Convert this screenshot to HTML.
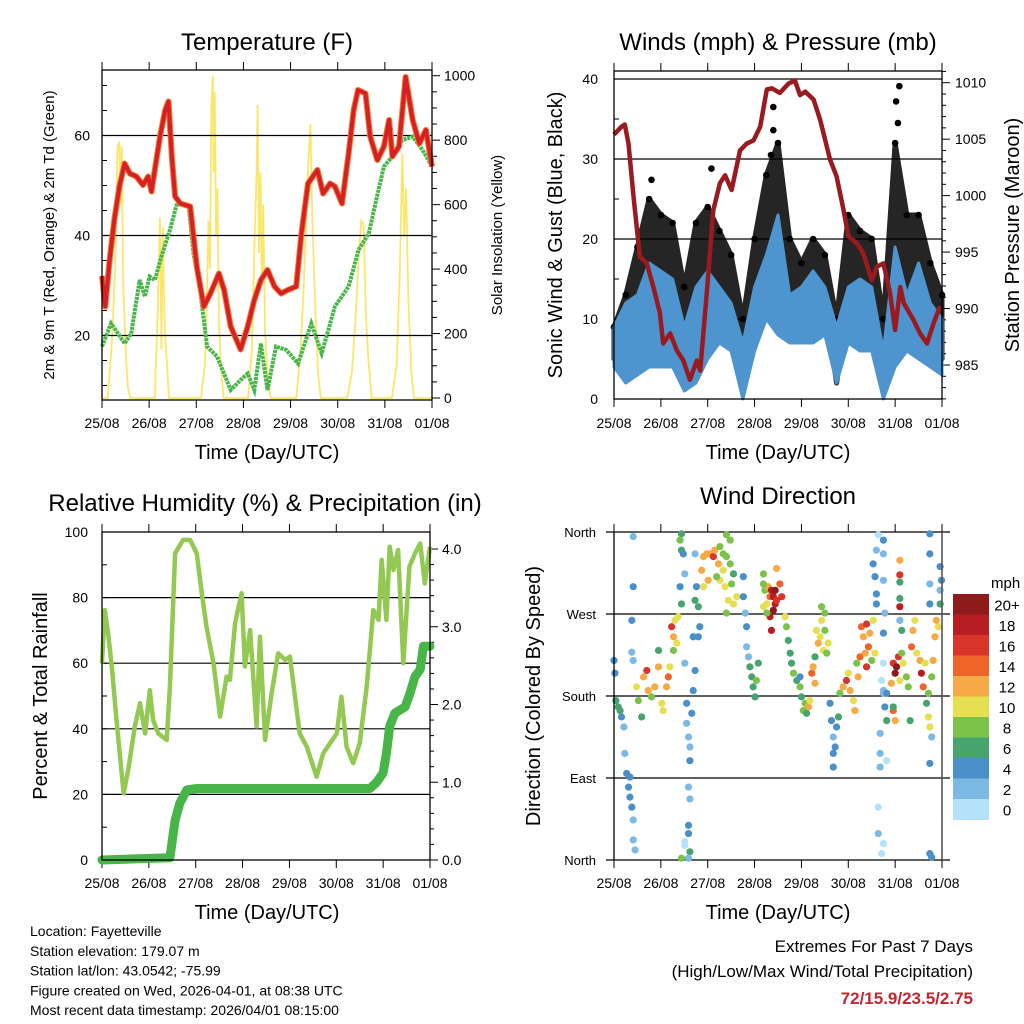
<!DOCTYPE html>
<html><head><meta charset="utf-8">
<style>
html,body{margin:0;padding:0;background:#fff;}
svg{display:block;font-family:"Liberation Sans",Arial,sans-serif;}
</style></head>
<body>
<svg id="chart" width="1024" height="1024" viewBox="0 0 1024 1024">
<g id="layer"></g>
</svg>
<script>
// ---------------- DATA ----------------
const dayLabels = ["25/08","26/08","27/08","28/08","29/08","30/08","31/08","01/08"];
// Temperature 2m (red) / 9m (orange)
const tempDays = [0,0.07,0.16,0.26,0.37,0.48,0.59,0.73,0.87,0.98,1.05,1.12,1.23,1.34,1.41,1.48,1.55,1.66,1.87,2.01,2.16,2.30,2.48,2.59,2.73,2.94,3.09,3.23,3.37,3.51,3.66,3.80,3.94,4.12,4.23,4.37,4.57,4.69,4.84,4.94,5.09,5.23,5.34,5.43,5.59,5.69,5.84,5.98,6.09,6.16,6.30,6.44,6.59,6.73,6.87,7.0];
const tempVals = [31.9,25.8,34.9,43.1,49.8,54.4,52.4,51.8,50.1,51.8,48.8,53.1,59.8,65.1,66.8,55.8,47.8,46.4,45.8,33.8,25.8,28.4,32.4,29.1,21.8,17.2,21.8,27.1,31.1,33.1,29.8,28.4,29.1,29.8,40.4,50.4,53.1,48.4,50.4,49.8,46.4,56.4,65.1,69.1,68.4,59.8,55.1,57.8,63.1,55.8,57.8,71.7,63.1,58.4,61.1,53.8];
// Dewpoint (green)
const dewDays = [0,0.19,0.34,0.48,0.62,0.80,0.91,1.01,1.12,1.26,1.44,1.59,1.84,1.94,2.09,2.23,2.44,2.73,2.94,3.09,3.23,3.37,3.51,3.69,3.91,4.16,4.44,4.66,4.94,5.23,5.44,5.66,5.80,5.98,6.16,6.37,6.59,6.80,7.0];
const dewVals = [17.8,22.4,20.4,18.4,20.4,31.1,27.8,31.8,31.1,35.8,41.1,46.4,45.8,36.4,28.4,17.8,15.8,9.1,11.1,12.4,9.1,18.4,9.1,17.8,17.1,14.4,22.4,16.4,25.8,29.8,37.1,40.4,46.4,53.8,55.8,59.1,59.8,57.1,53.8];
// Solar insolation (yellow)
const solarDays = [0,0.12,0.2,0.28,0.33,0.37,0.40,0.42,0.45,0.5,0.55,0.6,1.12,1.18,1.23,1.26,1.29,1.33,1.38,1.42,2.1,2.18,2.22,2.26,2.29,2.32,2.35,2.37,2.39,2.42,2.45,2.48,2.52,2.58,3.1,3.18,3.24,3.28,3.3,3.33,3.36,3.39,3.42,3.46,3.52,3.58,4.12,4.2,4.28,4.35,4.42,4.46,4.52,4.58,4.64,5.2,5.3,5.38,5.45,5.5,5.55,5.6,5.65,5.72,6.15,6.25,6.32,6.37,6.41,6.45,6.5,6.56,6.62,7.0];
const solarVals = [0,0,150,400,780,795,600,780,350,150,30,0,0,250,560,150,530,220,100,0,0,100,300,550,400,900,1000,700,950,500,650,250,100,0,0,150,500,700,910,450,700,350,600,200,50,0,0,120,350,650,850,550,300,80,0,0,80,250,450,550,540,250,120,0,0,100,400,760,500,650,300,80,0,0];
// Winds: 6-hourly envelopes (mph)
const windDays = [0,0.25,0.5,0.75,1,1.25,1.5,1.75,2,2.25,2.5,2.75,3,3.25,3.5,3.75,4,4.25,4.5,4.75,5,5.25,5.5,5.75,6,6.25,6.5,6.75,7];
const windLow  = [4,2,3,4,4,4,1,2,5,7,6,0,6,10,8,7,7,7,8,2,7,6,6,0,4,6,5,4,3];
const windHigh = [9,12,13,17,16,15,9,14,16,14,12,7,14,18,23,13,14,16,14,9,14,15,14,6,19,13,17,12,10];
const gustLow  = [5,6,8,10,10,9,5,8,12,10,8,2,9,16,12,10,10,12,12,2,12,10,10,2,12,10,10,8,5];
const gustHigh = [9,13,19,25,23,22,14,22,24,21,18,10,20,28,32,20,17,20,18,10,23,21,20,10,32,23,23,17,13];
const gustPeakDays = [6.09,6.02,3.40,3.40,2.08,0.8,6.06,3.35];
const gustPeakVals = [39.1,37.2,36.5,33.6,28.8,27.4,34.5,30.5];
// Station pressure (mb)
const presDays = [0,0.16,0.23,0.31,0.41,0.55,0.70,0.84,0.98,1.05,1.20,1.34,1.48,1.62,1.77,1.84,1.98,2.12,2.26,2.37,2.51,2.69,2.83,2.98,3.12,3.26,3.37,3.54,3.72,3.86,3.97,4.08,4.26,4.40,4.61,4.75,4.90,5.00,5.18,5.32,5.50,5.61,5.75,5.89,6.00,6.11,6.18,6.39,6.53,6.68,6.82,6.96];
const presVals = [1005.4,1006.1,1006.3,1004.6,1000.2,994.6,994.0,991.9,989.6,986.9,987.8,986.3,985.4,983.7,985.4,984.5,991.4,998.7,1001.1,1001.8,1000.5,1004.0,1004.6,1004.9,1006.1,1009.4,1009.5,1009.1,1009.9,1010.2,1008.9,1009.2,1008.5,1006.7,1003.2,1001.7,998.7,996.4,995.8,994.9,992.5,993.7,994.0,991.4,988.1,991.9,990.5,989.0,987.8,986.9,988.7,990.2];
// Relative humidity (%)
const rhDays = [0,0.06,0.13,0.21,0.31,0.40,0.46,0.56,0.70,0.81,0.92,1.02,1.09,1.20,1.38,1.45,1.56,1.73,1.88,2.02,2.13,2.23,2.38,2.52,2.66,2.73,2.84,2.98,3.05,3.16,3.30,3.37,3.48,3.62,3.76,3.91,4.01,4.22,4.37,4.58,4.72,5.01,5.11,5.22,5.36,5.50,5.65,5.79,5.90,5.97,6.07,6.14,6.22,6.32,6.43,6.56,6.68,6.79,6.89,7.0];
const rhVals = [60.0,76.2,69.1,59.0,42.7,29.5,20.3,27.4,40.7,47.8,38.6,51.8,42.7,38.6,36.6,52.8,93.5,97.6,97.6,93.5,81.3,71.1,60.0,43.7,55.9,54.9,72.2,81.3,59.0,70.1,40.7,68.1,36.6,50.8,63.0,61.0,62.0,38.6,34.5,25.4,32.5,38.6,49.8,34.5,29.5,35.6,52.8,76.2,73.2,91.5,73.2,95.5,88.4,94.5,60.0,89.4,93.5,96.5,84.3,95.5];
// Total rainfall (in)
const rainDays = [0,1.45,1.56,1.66,1.81,2.02,5.72,5.86,6.0,6.07,6.14,6.25,6.47,6.57,6.68,6.79,6.86,7.0];
const rainVals = [0,0.03,0.51,0.73,0.90,0.92,0.92,1.0,1.12,1.37,1.72,1.89,1.97,2.14,2.36,2.45,2.75,2.75];
// Wind direction (deg) colored by speed (mph)
const wdDay = [0,.02,.04,.09,.13,.16,.21,.23,.27,.31,.34,.38,.41,.41,.45,.34,.41,.41,.38,.38,.41,
.48,.52,.59,.63,.70,.73,.80,.87,.95,1.02,1.05,1.12,1.16,1.19,.95,1.23,1.27,1.30,1.34,1.37,1.27,
1.44,1.44,1.41,1.48,1.41,1.44,1.51,1.51,1.55,1.55,1.59,1.62,1.62,1.66,1.69,1.73,1.69,1.59,1.62,1.59,1.59,1.51,1.51,1.62,1.44,1.59,1.73,1.80,1.83,1.80,1.73,1.76,
1.87,1.91,1.98,2.05,2.12,2.15,2.23,2.26,2.33,2.40,2.48,2.55,2.26,2.37,2.44,2.55,2.62,2.40,2.51,2.19,2.01,1.91,2.33,2.48,2.40,
2.76,2.76,2.80,2.83,2.83,2.87,2.90,2.94,2.97,3.01,3.04,3.08,
3.19,3.22,3.26,3.29,3.33,3.36,3.40,3.44,3.40,3.44,3.47,3.47,3.54,3.58,3.33,3.36,3.26,3.19,3.65,3.68,3.19,
3.72,3.76,3.79,3.83,3.90,3.97,4.00,4.08,4.15,4.18,4.04,4.11,3.97,
4.22,4.25,4.29,4.32,4.36,4.40,4.43,4.47,4.50,4.54,4.57,4.43,4.50,4.29,
4.61,4.64,4.68,4.68,4.68,4.75,4.79,4.72,
4.82,4.89,4.96,5.04,5.11,5.14,5.00,5.18,5.21,5.25,
5.28,5.32,5.39,5.43,5.46,5.53,5.57,5.36,5.39,5.50,
5.53,5.57,5.60,5.60,5.60,5.64,5.75,5.75,5.75,5.78,5.75,5.75,5.71,5.75,5.78,5.82,5.68,5.68,5.82,5.68,5.64,5.64,5.75,5.71,5.75,
5.96,6.00,6.03,6.07,6.10,6.14,5.92,5.96,6.00,6.17,6.24,6.28,6.35,6.38,6.42,6.46,6.53,6.56,6.60,6.64,6.67,6.71,6.74,6.78,6.81,6.85,6.88,6.92,6.96,6.99,6.96,6.96,5.96,5.82,6.10,6.14,6.10,6.10,6.10,6.10,6.10,6.32,6.74,6.74,6.74,6.74,6.74,6.74,6.78,6.78,6.71];
const wdDeg = [219,205,175,168,164,157,146,117,95,80,69,58,44,22,11,91,355,300,263,228,219,
190,175,157,201,208,186,179,190,212,172,164,190,201,212,230,256,245,263,238,267,230,
358,340,351,336,300,281,314,216,172,150,135,124,109,161,186,208,245,80,67,38,29,20,16,9,2,2,285,278,256,245,336,300,
318,333,336,336,333,340,325,344,336,333,325,314,307,300,285,281,289,271,303,311,307,300,318,351,357,
311,289,271,256,234,223,212,201,190,179,197,216,
314,296,281,300,289,296,289,281,274,296,285,320,303,289,267,252,271,278,267,256,303,
241,227,216,205,197,190,179,172,168,175,164,161,201,
205,212,194,252,238,245,263,230,252,227,238,278,271,223,
172,153,135,117,102,146,157,124,
183,190,197,186,175,164,205,216,201,223,
256,245,259,234,249,263,227,227,212,219,
325,311,292,281,340,357,351,336,307,271,249,216,197,186,168,153,139,117,109,102,58,29,18,7,183,
216,205,212,223,197,227,194,164,153,216,201,190,234,252,263,227,219,205,190,216,172,157,146,201,219,245,263,256,281,307,322,296,168,183,263,252,329,313,305,287,278,153,358,336,303,281,106,7,3,135,183];
const wdSpd = [4,5,7,7,6,5,3,3,4,4,4,4,2,2,2,5,3,4,4,2,3,
10,9,6,12,16,12,9,12,13,11,10,13,14,10,6,16,12,10,10,11,9,
6,7,8,4,4,6,3,3,4,3,3,2,4,4,4,4,4,2,2,4,4,1,1,6,9,3,7,6,4,4,2,4,
12,13,12,13,16,13,12,9,8,8,8,7,10,10,10,10,10,8,8,9,13,10,11,8,8,
4,4,2,4,3,2,6,6,6,7,8,7,
8,9,10,12,14,18,18,19,21,20,16,13,14,16,18,18,9,10,10,8,8,
6,6,7,8,7,8,6,8,12,11,8,7,4,
14,13,12,10,12,10,10,10,9,8,11,8,8,7,
4,4,3,4,4,4,6,4,
8,12,16,12,11,12,10,9,13,14,
14,12,16,15,13,11,10,12,16,9,
4,4,4,4,3,1,4,3,2,3,4,1,1,2,4,6,2,2,1,3,1,2,1,1,3,
16,20,20,17,10,8,12,14,12,10,8,9,14,12,11,10,12,18,14,10,7,10,10,9,12,12,13,10,6,4,4,3,6,5,2,6,12,16,6,6,18,6,4,4,2,4,4,4,4,2,8];
const speedBins = ["0","2","4","6","8","10","12","14","16","18","20+"];
const speedColors = ["#b4e2f8","#7cb9e4","#4a8fc7","#47a46e","#7bc24a","#e6df52","#f6a946","#ef6429","#d9352b","#b81d24","#8f1a1b"];

// ---------------- HELPERS ----------------
const NS="http://www.w3.org/2000/svg";
const layer=document.getElementById('layer');
function mk(tag,attrs,parent){const e=document.createElementNS(NS,tag);for(const k in attrs)e.setAttribute(k,attrs[k]);(parent||layer).appendChild(e);return e;}
function txt(s,x,y,size,anchor,parent,extra){const e=mk('text',Object.assign({x:x,y:y,'font-size':size,'text-anchor':anchor||'middle',fill:'#000'},extra||{}),parent);e.textContent=s;return e;}
function lin(d0,d1,r0,r1){return v=>r0+(v-d0)*(r1-r0)/(d1-d0);}
function path(xs,ys,sx,sy){return xs.map((d,i)=>(i?'L':'M')+sx(d).toFixed(1)+','+sy(ys[i]).toFixed(1)).join('');}

function panelFrame(g,x0,x1,y0,y1){
  const sx=lin(0,7,x0,x1);
  dayLabels.forEach((l,i)=>{
    const x=sx(i);
    const t1=mk('line',{x1:x,x2:x,y1:y1,y2:y1+8,stroke:'#000','stroke-width':1},g);
    
    
    const t2=mk('line',{x1:x,x2:x,y1:y0,y2:y0-8,stroke:'#000','stroke-width':1},g);
    
    
    const lb=txt(l,x,428,14,'middle',g);
    
    
  });
  return sx;
}
function rect(g,x0,x1,y0,y1){
  const r=mk('rect',{x:x0,y:y0,width:x1-x0,height:y1-y0,fill:'none',stroke:'#000','stroke-width':1.3},g);
  
  
}
function grid(g,x0,x1,y,ext){
  const l=mk('line',{x1:x0-(ext||0),x2:x1+(ext||0),y1:y,y2:y,stroke:'#000','stroke-width':1.2},g);
  
  
}

// ---------------- PANEL 1: TEMPERATURE ----------------
(function(){
  const g=mk('g',{});  
  const X0=102,X1=432,Y0=70,Y1=400;
  const sy=lin(20,60,335.5,135.5); const ss=lin(0,1000,398,75.7);
  const sx=panelFrame(g,X0,X1,Y0,Y1);
  const t=txt('Temperature (F)',267,50,24,'middle',g);  
  const ax=txt('Time (Day/UTC)',267,459,20,'middle',g);  
  const yl=txt('2m & 9m T (Red, Orange) & 2m Td (Green)',0,0,15,'middle',g,{transform:'translate(54,235) rotate(-90)'});  
  const yr=txt('Solar Insolation (Yellow)',0,0,15,'middle',g,{transform:'translate(502,235) rotate(-90)'});  
  const solar=mk('path',{d:path(solarDays,solarVals,sx,ss),fill:'none',stroke:'#fbe35a','stroke-width':1.8,opacity:0.9},g);
   
  [20,40,60].forEach(v=>{grid(g,X0,X1,sy(v));const l=txt(String(v),90,sy(v)+5,14,'end',g);});
  for(let v=10;v<=70;v+=5){const tk=mk('line',{x1:X0,x2:X0+5,y1:sy(v),y2:sy(v),stroke:'#000'},g);}
  for(let v=0;v<=1000;v+=50){const w=v%200==0?8:5;const tk=mk('line',{x1:X1,x2:X1+w,y1:ss(v),y2:ss(v),stroke:'#000'},g);}
  [0,200,400,600,800,1000].forEach(v=>{const l=txt(String(v),444,ss(v)+5,14,'start',g);});
  const dew=mk('path',{d:path(dewDays,dewVals,sx,sy),fill:'none',stroke:'#47b548','stroke-width':4,'stroke-dasharray':'3 0.8'},g);
   
  const t9=mk('path',{d:path(tempDays,tempVals,sx,sy),fill:'none',stroke:'#f47b2a','stroke-width':6,'stroke-linejoin':'round'},g);
   
  const t2=mk('path',{d:path(tempDays,tempVals,sx,sy),fill:'none',stroke:'#d42026','stroke-width':4,'stroke-linejoin':'round'},g);
   
  rect(g,X0,X1,Y0,Y1);
})();

// ---------------- PANEL 2: WINDS & PRESSURE ----------------
(function(){
  const g=mk('g',{});  
  const X0=614,X1=942,Y0=71,Y1=399;
  const sy=lin(0,40,399,79); const sp=lin(985,1010,365,82.7);
  const sx=panelFrame(g,X0,X1,Y0,Y1);
  const t=txt('Winds (mph) & Pressure (mb)',778,50,24,'middle',g);  
  const ax=txt('Time (Day/UTC)',778,459,20,'middle',g);  
  const yl=txt('Sonic Wind & Gust (Blue, Black)',0,0,20,'middle',g,{transform:'translate(562,235) rotate(-90)'});  
  const yr=txt('Station Pressure (Maroon)',0,0,20,'middle',g,{transform:'translate(1019,235) rotate(-90)'});  
  [0,10,20,30,40].forEach(v=>{if(v>0)grid(g,X0,X1,sy(v));const l=txt(String(v),598,sy(v)+5,14,'end',g);});
  for(let v=0;v<=40;v+=5){const tk=mk('line',{x1:X0,x2:X0+5,y1:sy(v),y2:sy(v),stroke:'#000'},g);}
  for(let v=982;v<=1011;v++){const w=v%5==0?8:4;const tk=mk('line',{x1:X1,x2:X1+w,y1:sp(v),y2:sp(v),stroke:'#000'},g);}
  [985,990,995,1000,1005,1010].forEach(v=>{const l=txt(String(v),955,sp(v)+5,14,'start',g);});
  const gd=path(windDays,gustHigh,sx,sy)+windDays.slice().reverse().map((d,i)=>'L'+sx(d).toFixed(1)+','+sy(gustLow[gustLow.length-1-i]).toFixed(1)).join('')+'Z';
  const gb=mk('path',{d:gd,fill:'#000',stroke:'#000','stroke-width':5,'stroke-linejoin':'round',opacity:0.85},g);
   
  windDays.forEach((d,i)=>{const c=mk('circle',{cx:sx(d),cy:sy(gustHigh[i]),r:3.3,fill:'#000'},g);});
  gustPeakDays.forEach((d,i)=>{const c=mk('circle',{cx:sx(d),cy:sy(gustPeakVals[i]),r:3.3,fill:'#000'},g);});
  const wd=path(windDays,windHigh,sx,sy)+windDays.slice().reverse().map((d,i)=>'L'+sx(d).toFixed(1)+','+sy(windLow[windLow.length-1-i]).toFixed(1)).join('')+'Z';
  const wb=mk('path',{d:wd,fill:'#4e95d0',stroke:'#4e95d0','stroke-width':3,'stroke-linejoin':'round'},g);
   
  const pr=mk('path',{d:path(presDays,presVals,sx,sp),fill:'none',stroke:'#9a1b1f','stroke-width':4.5,'stroke-linejoin':'round'},g);
   
  rect(g,X0,X1,Y0,Y1);
})();

// ---------------- PANEL 3: RH & PRECIP ----------------
(function(){
  const g=mk('g',{});  
  const X0=102,X1=430,Y0=532,Y1=860;
  const sy=lin(0,100,860,532); const sr=lin(0,4,860,549);
  const sx=lin(0,7,X0,X1);
  dayLabels.forEach((l,i)=>{const x=sx(i);
    const a=mk('line',{x1:x,x2:x,y1:Y1,y2:Y1+8,stroke:'#000'},g);
    const b=mk('line',{x1:x,x2:x,y1:Y0,y2:Y0-8,stroke:'#000'},g);
    const lb=txt(l,x,888,14,'middle',g);});
  const t=txt('Relative Humidity (%) & Precipitation (in)',265,511,24,'middle',g);  
  const ax=txt('Time (Day/UTC)',267,919,20,'middle',g);  
  const yl=txt('Percent & Total Rainfall',0,0,20,'middle',g,{transform:'translate(47,696) rotate(-90)'});  
  [0,20,40,60,80,100].forEach(v=>{if(v>0&&v<100)grid(g,X0,X1,sy(v));const l=txt(String(v),88,sy(v)+5,14,'end',g);});
  for(let v=0;v<=100;v+=10){const tk=mk('line',{x1:X0,x2:X0+5,y1:sy(v),y2:sy(v),stroke:'#000'},g);}
  for(let v=0;v<=4.01;v+=0.2){const w=Math.abs(v-Math.round(v))<0.01?8:4;const tk=mk('line',{x1:X1,x2:X1+w,y1:sr(v),y2:sr(v),stroke:'#000'},g);}
  ['0.0','1.0','2.0','3.0','4.0'].forEach((s,i)=>{const l=txt(s,442,sr(i)+5,14,'start',g);});
  const rh=mk('path',{d:path(rhDays,rhVals,sx,sy),fill:'none',stroke:'#93c952','stroke-width':4.5,'stroke-linejoin':'round'},g);
   
  const rn=mk('path',{d:path(rainDays,rainVals,sx,sr),fill:'none',stroke:'#48b548','stroke-width':9,'stroke-linejoin':'round','stroke-linecap':'round'},g);
   
  rect(g,X0,X1,Y0,Y1);
})();

// ---------------- PANEL 4: WIND DIRECTION ----------------
(function(){
  const g=mk('g',{});  
  const X0=614,X1=942,Y0=532,Y1=860;
  const sy=lin(0,360,860,532);
  const sx=lin(0,7,X0,X1);
  dayLabels.forEach((l,i)=>{const x=sx(i);
    const a=mk('line',{x1:x,x2:x,y1:Y1,y2:Y1+8,stroke:'#000'},g);
    const b=mk('line',{x1:x,x2:x,y1:Y0,y2:Y0-8,stroke:'#000'},g);
    const lb=txt(l,x,888,14,'middle',g);});
  const t=txt('Wind Direction',778,504,24,'middle',g);  
  const ax=txt('Time (Day/UTC)',778,919,20,'middle',g);  
  const yl=txt('Direction (Colored By Speed)',0,0,20,'middle',g,{transform:'translate(540,696) rotate(-90)'});  
  ['North','East','South','West','North'].forEach((s,i)=>{const v=i*90;grid(g,X0,X1,sy(v),8);const l=txt(s,596,sy(v)+5,13,'end',g);});
  wdDay.forEach((d,i)=>{const b=Math.min(10,Math.max(0,Math.floor(wdSpd[i]/2)));
    const c=mk('circle',{cx:sx(d),cy:sy(wdDeg[i]),r:3.6,fill:speedColors[b]},g);
    
    });
  const fr=mk('line',{x1:X0,x2:X0,y1:Y0,y2:Y1,stroke:'#000','stroke-width':1.3},g);
  const fr2=mk('line',{x1:X1,x2:X1,y1:Y0,y2:Y1,stroke:'#555','stroke-width':1.6},g);
  const cb=mk('g',{},g);  
  const top=594,h=20.5;
  speedColors.slice().reverse().forEach((c,i)=>{const r=mk('rect',{x:953,y:top+i*h,width:36,height:h+0.5,fill:c},cb);});
  speedBins.slice().reverse().forEach((s,i)=>{const l=txt(s,1007,top+i*h+h/2+6,15,'middle',cb);});
  const u=txt('mph',991,588,15,'start',cb);
})();

// ---------------- FOOTER ----------------
(function(){
  const g=mk('g',{});  
  const lines=['Location: Fayetteville','Station elevation: 179.07 m','Station lat/lon: 43.0542; -75.99','Figure created on Wed, 2026-04-01, at 08:38 UTC','Most recent data timestamp: 2026/04/01 08:15:00'];
  lines.forEach((s,i)=>{const t=txt(s,30,936+i*19.75,14,'start',g);});
  const e=mk('g',{});  
  const a=txt('Extremes For Past 7 Days',973,952,17,'end',e);
  const b=txt('(High/Low/Max Wind/Total Precipitation)',973,977,17,'end',e);
  const c=txt('72/15.9/23.5/2.75',973,1004,17,'end',e,{fill:'#c0282d','font-weight':'bold'});
})();
</script>
</body></html>
